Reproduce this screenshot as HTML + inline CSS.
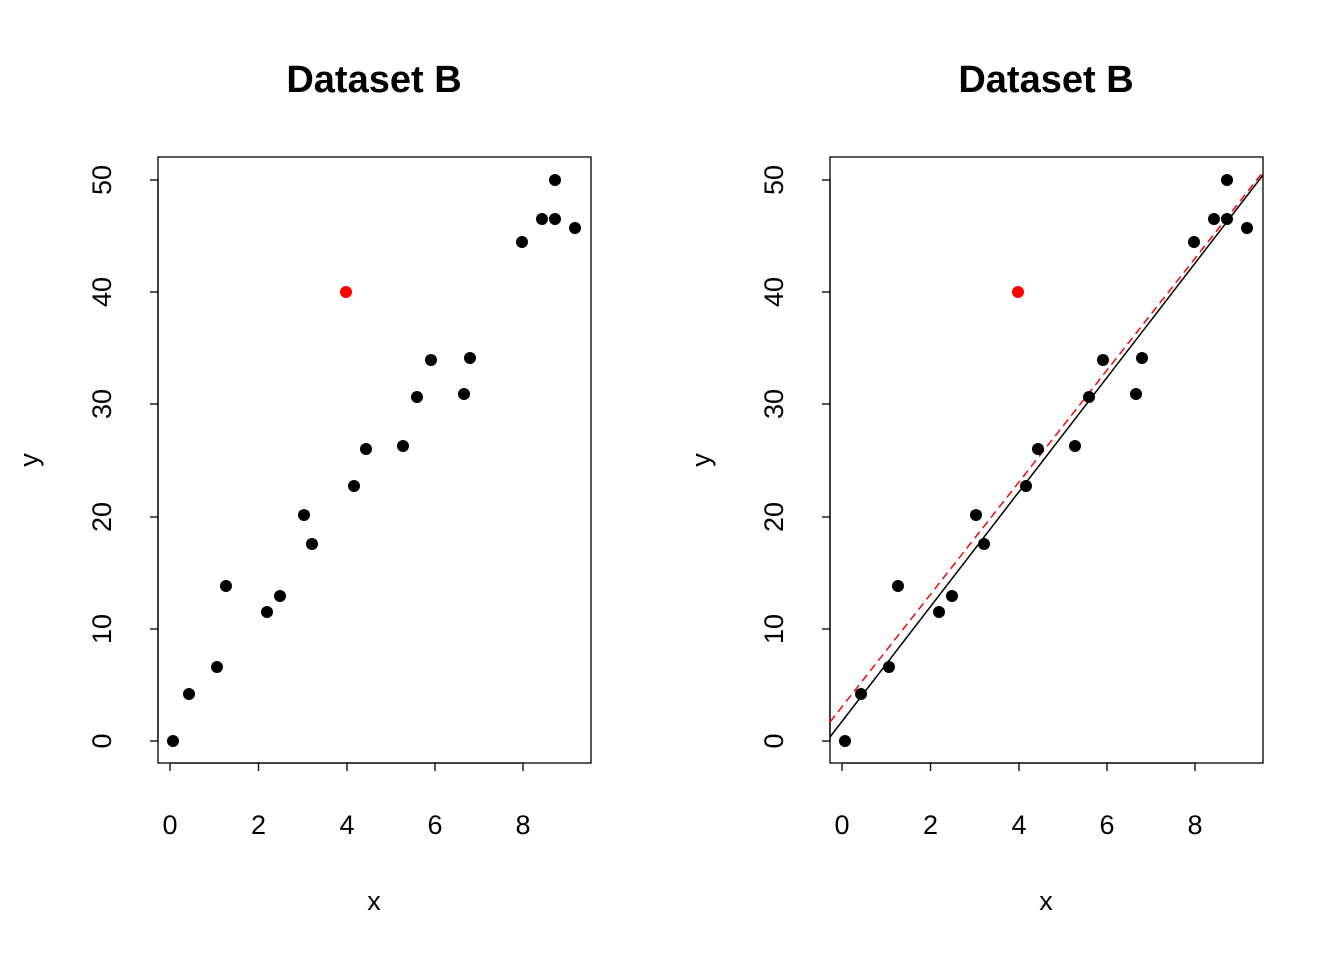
<!DOCTYPE html>
<html><head><meta charset="utf-8"><style>body{margin:0;background:#fff}svg{display:block}</style></head><body>
<svg width="1344" height="960" xmlns="http://www.w3.org/2000/svg" font-family="Liberation Sans, Arial, sans-serif">
<defs>
<g id="pts" fill="#000">
<circle cx="173" cy="741" r="6"/><circle cx="189" cy="694" r="6"/><circle cx="217" cy="667" r="6"/>
<circle cx="226" cy="586" r="6"/><circle cx="267" cy="612" r="6"/><circle cx="280" cy="596" r="6"/>
<circle cx="304" cy="515" r="6"/><circle cx="312" cy="544" r="6"/><circle cx="354" cy="486" r="6"/>
<circle cx="366" cy="449" r="6"/><circle cx="403" cy="446" r="6"/><circle cx="417" cy="397" r="6"/>
<circle cx="431" cy="360" r="6"/><circle cx="464" cy="394" r="6"/><circle cx="470" cy="358" r="6"/>
<circle cx="522" cy="242" r="6"/><circle cx="542" cy="219" r="6"/><circle cx="555" cy="219" r="6"/>
<circle cx="555" cy="180" r="6"/><circle cx="575" cy="228" r="6"/>
<circle cx="346" cy="292" r="6" fill="#f00"/>
</g>
<g id="axes" stroke="#000" stroke-width="1.3" fill="none">
<rect x="158" y="157" width="433" height="606"/>
<line x1="170" y1="763" x2="523" y2="763"/>
<line x1="170" y1="763" x2="170" y2="771"/><line x1="258.5" y1="763" x2="258.5" y2="771"/>
<line x1="347" y1="763" x2="347" y2="771"/><line x1="435" y1="763" x2="435" y2="771"/>
<line x1="523" y1="763" x2="523" y2="771"/>
<line x1="158" y1="180" x2="158" y2="741"/>
<line x1="150" y1="741" x2="158" y2="741"/><line x1="150" y1="629" x2="158" y2="629"/>
<line x1="150" y1="517" x2="158" y2="517"/><line x1="150" y1="404" x2="158" y2="404"/>
<line x1="150" y1="292" x2="158" y2="292"/><line x1="150" y1="180" x2="158" y2="180"/>
</g>
<g id="labels" font-size="27" fill="#000">
<text x="374" y="92" font-size="38" font-weight="bold" text-anchor="middle">Dataset B</text>
<g text-anchor="middle">
<text x="170" y="834">0</text><text x="258.5" y="834">2</text><text x="347" y="834">4</text>
<text x="435" y="834">6</text><text x="523" y="834">8</text>
<text x="374" y="910">x</text>
</g>
<g text-anchor="middle">
<text transform="translate(111,741) rotate(-90)">0</text>
<text transform="translate(111,629) rotate(-90)">10</text>
<text transform="translate(111,517) rotate(-90)">20</text>
<text transform="translate(111,404) rotate(-90)">30</text>
<text transform="translate(111,292) rotate(-90)">40</text>
<text transform="translate(111,180) rotate(-90)">50</text>
<text transform="translate(38,460) rotate(-90)">y</text>
</g>
</g>
</defs>
<use href="#axes"/><use href="#labels"/><use href="#pts"/>
<g transform="translate(672,0)">
<use href="#axes"/><use href="#labels"/>
<line x1="158" y1="737" x2="591" y2="175" stroke="#000" stroke-width="1.5"/>
<line x1="158" y1="722" x2="591" y2="172" stroke="#f00" stroke-width="1.5" stroke-dasharray="8,5"/>
<use href="#pts"/>
</g>
</svg>
</body></html>
